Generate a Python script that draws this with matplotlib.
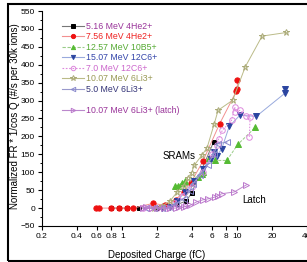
import matplotlib
matplotlib.use("Agg")
import matplotlib.pyplot as plt
from matplotlib.lines import Line2D
from matplotlib.patches import Rectangle
from matplotlib.ticker import FixedLocator, MultipleLocator, NullLocator

plt.rcParams['font.family'] = ['Liberation Sans', 'DejaVu Sans']
plt.rcParams['font.size'] = 7

# ---------------- data ----------------
he516_x = [0.79, 0.94, 1.1, 1.4, 2.0, 3.0, 3.6, 4.0, 6.2]
he516_y = [0, 0, 0, 0, 0, 10, 20, 42, 184]

he756_x = [0.59, 0.63, 0.8, 0.94, 1.1, 1.24, 1.84, 2.35, 2.9, 3.4, 3.94, 5.0, 7.0, 9.8, 10.0, 10.0]
he756_y = [0, 0, 0, 0, 0, 0, 13, 8, 23, 45, 71, 130, 235, 326, 333, 357]

b1257_x = [2.87, 3.06, 3.27, 3.5, 4.5, 4.9, 5.05, 5.7, 6.4, 8.1, 10.1, 14.3]
b1257_y = [61, 63, 70, 75, 88, 96, 102, 140, 133, 133, 178, 225]

c1507_x = [2.2, 2.6, 3.0, 3.5, 4.2, 5.0, 5.85, 6.2, 6.6, 7.3, 8.5, 10.5, 14.6, 26.0, 26.0]
c1507_y = [0, 3, 20, 45, 75, 110, 137, 156, 145, 165, 228, 259, 256, 321, 333]

c70_x = [1.5, 1.7, 2.0, 2.4, 2.8, 3.3, 4.0, 5.0, 6.0, 6.6, 6.9, 7.4, 8.9, 9.5, 9.6, 10.5, 12.0, 12.9, 12.7]
c70_y = [0, 0, 0, 0, 15, 35, 60, 100, 150, 177, 194, 217, 245, 282, 268, 273, 256, 254, 198]

li1007_x = [1.9, 2.2, 2.6, 3.0, 3.4, 3.7, 4.0, 4.2, 4.9, 5.46, 6.3, 6.8, 9.1, 11.7, 16.4, 26.7]
li1007_y = [0, 5, 20, 45, 63, 85, 98, 119, 147, 169, 236, 273, 301, 394, 480, 490]

li50_x = [1.6, 1.9, 2.2, 2.6, 2.9, 3.4, 3.9, 4.1, 4.7, 5.5, 6.2, 6.8, 8.1]
li50_y = [0, 0, 0, 3, 10, 26, 49, 68, 91, 120, 150, 180, 184]

latch_x = [1.5, 1.6, 1.8, 2.0, 2.3, 2.6, 2.9, 3.1, 3.4, 3.6, 3.9, 4.4, 5.0, 5.6, 6.4, 6.8, 7.3, 9.4, 12.0]
latch_y = [0, 3, 0, 0, 0, 0, 0, 2, 3, 5, 8, 17, 23, 26, 31, 35, 40, 45, 65]

labels = ["5.16 MeV 4He2+", "7.56 MeV 4He2+", "12.57 MeV 10B5+", "15.07 MeV 12C6+",
          "7.0 MeV 12C6+", "10.07 MeV 6Li3+", "5.0 MeV 6Li3+", "10.07 MeV 6Li3+ (latch)"]

x_ticks = [0.2, 0.4, 0.6, 0.8, 1, 2, 4, 6, 8, 10, 20, 40]
x_ticklabels = ["0.2", "0.4", "0.6", "0.8", "1", "2", "4", "6", "8", "10", "20", "40"]

# ---------------- figure ----------------
W, H = 307, 262
fig = plt.figure(figsize=(W / 100, H / 100), dpi=100)
ax = fig.add_axes([42 / W, 1 - 226 / H, 1 - 42 / W, (226 - 11) / H])

styles = [
    dict(x=he516_x, y=he516_y, marker='s', mfc='black', mec='black', lc='#777777', ls='-', ms=3.2, tc='#993399'),
    dict(x=he756_x, y=he756_y, marker='o', mfc='#ee1111', mec='#ee1111', lc='#f29090', ls='-', ms=3.8, tc='#ee2222'),
    dict(x=b1257_x, y=b1257_y, marker='^', mfc='#55bb33', mec='#55bb33', lc='#99cc88', ls=(0, (3, 1.5)), ms=3.8, tc='#55aa33'),
    dict(x=c1507_x, y=c1507_y, marker='v', mfc='#2a44a0', mec='#2a44a0', lc='#99aadd', ls='-', ms=3.8, tc='#3344aa'),
    dict(x=c70_x, y=c70_y, marker='o', mfc='none', mec='#dd88dd', lc='#dd88dd', ls=(0, (1.5, 1.5)), ms=4.0, tc='#cc66cc'),
    dict(x=li1007_x, y=li1007_y, marker='*', mfc='none', mec='#aaaa77', lc='#bbbb88', ls='-', ms=5.0, tc='#999955'),
    dict(x=li50_x, y=li50_y, marker='<', mfc='none', mec='#8888cc', lc='#9999cc', ls='-', ms=4.0, tc='#333377'),
    dict(x=latch_x, y=latch_y, marker='>', mfc='none', mec='#bb77cc', lc='#bb88cc', ls='-', ms=4.0, tc='#993399'),
]

handles = []
for s in styles:
    ax.plot(s['x'], s['y'], color=s['lc'], ls=s['ls'], lw=0.7,
            marker=s['marker'], ms=s['ms'], mfc=s['mfc'], mec=s['mec'], mew=0.7, zorder=3)
    handles.append(Line2D([], [], color=s['lc'], ls=s['ls'], lw=0.8, marker=s['marker'],
                          ms=s['ms'] * 0.8, mfc=s['mfc'], mec=s['mec'], mew=0.7))

blank = Line2D([], [], color='none')
leg_handles = handles[:7] + [blank] + [handles[7]]
leg_labels = labels[:7] + [" "] + [labels[7]]
leg_colors = [s['tc'] for s in styles[:7]] + ['white'] + [styles[7]['tc']]

leg = ax.legend(leg_handles, leg_labels, loc='upper left',
                bbox_to_anchor=(62 / W, 1 - 22 / H), bbox_transform=fig.transFigure,
                frameon=False, fontsize=6.3, handlelength=2.5, handletextpad=0.25,
                labelspacing=0.17, borderpad=0, borderaxespad=0)
for t, c in zip(leg.get_texts(), leg_colors):
    t.set_color(c)

ax.set_xscale('log')
ax.set_xlim(0.2, 40.3)
ax.set_ylim(-50, 550)
ax.xaxis.set_major_locator(FixedLocator(x_ticks))
ax.set_xticklabels(x_ticklabels)
ax.xaxis.set_minor_locator(NullLocator())
ax.yaxis.set_major_locator(MultipleLocator(50))
ax.yaxis.set_minor_locator(MultipleLocator(25))

for side in ['top', 'right']:
    ax.spines[side].set_visible(False)
for side in ['left', 'bottom']:
    ax.spines[side].set_linewidth(0.8)
ax.tick_params(which='major', direction='out', length=3, width=0.8, labelsize=6, pad=2)
ax.tick_params(which='minor', direction='out', length=1.6, width=0.7)

ax.set_xlabel("Deposited Charge (fC)", fontsize=7)
ax.set_ylabel("Normalized FR * 1/cos Q (#/s per 30k ions)", fontsize=7)
ax.xaxis.set_label_coords((157 - 42) / (W - 42), (226 - 250) / 215)
ax.yaxis.set_label_coords((20 - 42) / (W - 42), (226 - 116) / 215)

ax.text(3.08, 144, "SRAMs", fontsize=7, ha='center', va='center')
ax.text(14.1, 21.5, "Latch", fontsize=7, ha='center', va='center')

fig.patches.append(Rectangle((8 / W, 1 / H), 1.2, (H - 5) / H, transform=fig.transFigure,
                             fill=False, lw=1.5, ec='black', clip_on=False))

fig.savefig("out.png", dpi=100)
